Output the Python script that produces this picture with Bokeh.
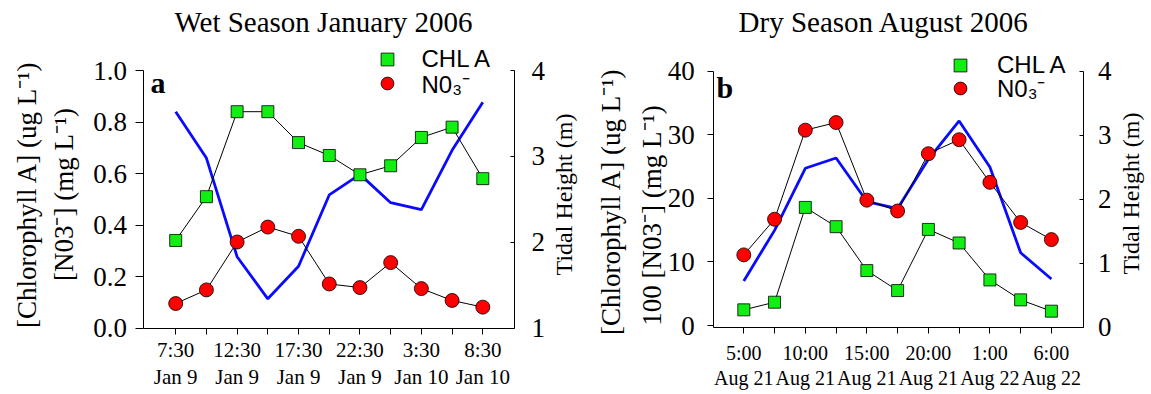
from bokeh.plotting import figure
from bokeh.models import (Range1d, LinearAxis, FixedTicker, Label, Legend,
                          LegendItem, ColumnDataSource)
from bokeh.layouts import row
from bokeh.embed import file_html
from bokeh.resources import INLINE

# ---------------- data ----------------
sample_index = list(range(11))

wet_time_labels = ["7:30", "", "12:30", "", "17:30", "", "22:30", "", "3:30", "", "8:30"]
wet_date_labels = ["Jan 9", "", "Jan 9", "", "Jan 9", "", "Jan 9", "", "Jan 10", "", "Jan 10"]
wet_chla = [0.34, 0.51, 0.84, 0.84, 0.72, 0.67, 0.595, 0.63, 0.74, 0.78, 0.58]
wet_no3 = [0.095, 0.148, 0.334, 0.392, 0.356, 0.171, 0.157, 0.254, 0.153, 0.107, 0.081]
wet_tide = [3.52, 2.98, 1.83, 1.34, 1.72, 2.55, 2.79, 2.46, 2.38, 3.07, 3.63]
wet_y_ticks = [0.0, 0.2, 0.4, 0.6, 0.8, 1.0]
wet_y_tick_labels = ["0.0", "0.2", "0.4", "0.6", "0.8", "1.0"]
wet_tide_ticks = [1, 2, 3, 4]

dry_time_labels = ["5:00", "", "10:00", "", "15:00", "", "20:00", "", "1:00", "", "6:00"]
dry_date_labels = ["Aug 21", "", "Aug 21", "", "Aug 21", "", "Aug 21", "", "Aug 22", "", "Aug 22"]
dry_chla = [2.46, 3.66, 18.56, 15.53, 8.63, 5.49, 15.1, 12.97, 7.16, 4.03, 2.25]
dry_no3_x100 = [11.1, 16.7, 30.7, 31.9, 19.7, 18.0, 27.0, 29.2, 22.5, 16.2, 13.5]
dry_tide = [0.72, 1.51, 2.48, 2.64, 1.96, 1.85, 2.62, 3.22, 2.50, 1.16, 0.75]
dry_y_ticks = [0, 10, 20, 30, 40]
dry_y_tick_labels = ["0", "10", "20", "30", "40"]
dry_tide_ticks = [0, 1, 2, 3, 4]

legend_labels = ["CHL A", "N0\u2083\u207b"]

SERIF = "Liberation Serif"
SANS = "Liberation Sans"
GREEN = "#11ee11"
RED = "#ff0000"
BLUE = "#0a0aff"
H = 394


def val_at(p_lo, v_lo, p_hi, v_hi, p):
    return v_lo + (p - p_lo) * (v_hi - v_lo) / (p_hi - p_lo)


def make_panel(cfg):
    W = cfg["width"]
    px0, px10 = cfg["x_px"]                   # pixel of sample 0 and sample 10
    (ylo_px, ylo), (yhi_px, yhi) = cfg["y_map"]
    (tlo_px, tlo), (thi_px, thi) = cfg["t_map"]
    xl_px, xr_px, xb_px = cfg["frame_px"]     # left axis, right axis, bottom axis pixels

    xr = Range1d(val_at(px0, 0, px10, 10, 0), val_at(px0, 0, px10, 10, W))
    yr = Range1d(val_at(ylo_px, ylo, yhi_px, yhi, H), val_at(ylo_px, ylo, yhi_px, yhi, 0))
    tr = Range1d(val_at(tlo_px, tlo, thi_px, thi, H), val_at(tlo_px, tlo, thi_px, thi, 0))
    x_left = val_at(px0, 0, px10, 10, xl_px)
    x_right = val_at(px0, 0, px10, 10, xr_px)
    y_bottom = val_at(ylo_px, ylo, yhi_px, yhi, xb_px)

    p = figure(width=W, height=H, x_range=xr, y_range=yr,
               output_backend="svg", toolbar_location=None, min_border=0)
    p.grid.visible = False
    p.outline_line_color = None
    p.background_fill_color = "white"
    p.border_fill_color = "white"
    p.extra_y_ranges = {"tide": tr}

    src = ColumnDataSource(dict(x=sample_index, chla=cfg["chla"], no3=cfg["no3"], tide=cfg["tide"]))

    p.line("x", "tide", source=src, y_range_name="tide", line_color=BLUE, line_width=2.8)
    p.line("x", "chla", source=src, line_color="black", line_width=1)
    p.line("x", "no3", source=src, line_color="black", line_width=1)
    sq = p.scatter("x", "chla", source=src, marker="square", size=12,
                   fill_color=GREEN, line_color="black", line_width=0.8)
    ci = p.scatter("x", "no3", source=src, marker="circle", size=14,
                   fill_color=RED, line_color="black", line_width=0.8)

    # bottom axis
    xa = p.xaxis[0]
    xa.fixed_location = y_bottom
    xa.bounds = (x_left, x_right)
    xa.ticker = FixedTicker(ticks=sample_index)
    xa.major_label_overrides = {i: (f"{t}\n{d}" if t else "")
                                for i, t, d in zip(sample_index, cfg["time_labels"], cfg["date_labels"])}
    xa.major_tick_in = 0
    xa.major_tick_out = 6
    xa.minor_tick_line_color = None
    xa.major_label_standoff = cfg["x_standoff"]
    xa.major_label_text_font = SERIF
    xa.major_label_text_font_size = cfg["x_font"]
    xa.major_label_text_line_height = 1.12
    xa.major_label_text_color = "black"
    xa.axis_line_color = "black"

    # left axis
    ya = p.yaxis[0]
    ya.fixed_location = x_left
    ya.bounds = (y_bottom, yhi)
    ya.ticker = FixedTicker(ticks=cfg["y_ticks"])
    ya.major_label_overrides = {v: s for v, s in zip(cfg["y_ticks"], cfg["y_tick_labels"])}
    ya.major_tick_in = 0
    ya.major_tick_out = cfg["left_tick"]
    ya.minor_tick_line_color = None
    ya.major_label_standoff = cfg["left_standoff"]
    ya.major_label_text_font = SERIF
    ya.major_label_text_font_size = "27px"
    ya.major_label_text_color = "black"
    ya.axis_line_color = "black"

    # right axis (tidal height)
    ra = LinearAxis(y_range_name="tide", ticker=FixedTicker(ticks=cfg["tide_ticks"]))
    ra.fixed_location = x_right
    ra.bounds = (val_at(tlo_px, tlo, thi_px, thi, xb_px), thi)
    ra.major_tick_in = 4
    ra.major_tick_out = 0
    ra.minor_tick_line_color = None
    ra.major_label_standoff = cfg["right_standoff"]
    ra.major_label_text_font = SERIF
    ra.major_label_text_font_size = "27px"
    ra.major_label_text_color = "black"
    ra.axis_line_color = "black"
    p.add_layout(ra, "right")

    def lab(text, pos, size, angle=0, bold=False, align="center", baseline="middle", font=SERIF):
        # pos given in canvas pixels from the top-left corner
        p.add_layout(Label(x=pos[0], y=H - pos[1], x_units="screen", y_units="screen",
                           text=text, text_font=font, text_font_size=size,
                           text_font_style="bold" if bold else "normal",
                           text_align=align, text_baseline=baseline,
                           angle=angle, angle_units="deg", text_color="black"))

    lab(cfg["title"], cfg["title_pos"], "29px", baseline="alphabetic")
    lab(cfg["ylab1"], cfg["ylab1_pos"], "27px", angle=90)
    lab(cfg["ylab2"], cfg["ylab2_pos"], "27px", angle=90)
    lab("Tidal Height (m)", cfg["tidal_pos"], "24px", angle=90)
    lab(cfg["letter"], cfg["letter_pos"], "30px", bold=True, align="left", baseline="alphabetic")

    # one single-row legend per series so that each row can be placed exactly
    for text, rend, (cx, cy) in zip(legend_labels, [sq, ci], cfg["legend_centers"]):
        leg = Legend(items=[LegendItem(label=text, renderers=[rend])],
                     location=(cx - 16, H - (cy + 16)), orientation="vertical",
                     glyph_width=32, glyph_height=32, spacing=0,
                     label_standoff=cfg["legend_standoff"], padding=0, margin=0,
                     label_height=32,
                     border_line_color=None, background_fill_alpha=0,
                     label_text_font=SANS, label_text_font_size="24px",
                     label_text_color="black")
        p.add_layout(leg)
    return p


wet_cfg = dict(
    width=583, x_px=(175.2, 482.3), y_map=((327.5, 0.0), (70.0, 1.0)),
    t_map=((327.5, 1.0), (70.0, 4.0)), frame_px=(142.5, 514.0, 327.5),
    chla=wet_chla, no3=wet_no3, tide=wet_tide,
    time_labels=wet_time_labels, date_labels=wet_date_labels,
    y_ticks=wet_y_ticks, y_tick_labels=wet_y_tick_labels, tide_ticks=wet_tide_ticks,
    x_standoff=4, x_font="21px", left_tick=8, left_standoff=8, right_standoff=17,
    title="Wet Season January 2006", title_pos=(323, 21),
    ylab1="[Chlorophyll A] (ug L\u207b\u00b9)", ylab1_pos=(26, 194),
    ylab2="[N03\u207b] (mg L\u207b\u00b9)", ylab2_pos=(63, 194),
    tidal_pos=(563, 194), letter="a", letter_pos=(150, 82),
    legend_centers=[(386.5, 58.7), (386.5, 83.5)], legend_standoff=19,
)

dry_cfg = dict(
    width=568, x_px=(743.3 - 583, 1050.9 - 583), y_map=((325.0, 0.0), (70.5, 40.0)),
    t_map=((326.5, 0.0), (70.5, 4.0)), frame_px=(713.3 - 583, 1082.5 - 583, 326.5),
    chla=dry_chla, no3=dry_no3_x100, tide=dry_tide,
    time_labels=dry_time_labels, date_labels=dry_date_labels,
    y_ticks=dry_y_ticks, y_tick_labels=dry_y_tick_labels, tide_ticks=dry_tide_ticks,
    x_standoff=9, x_font="20px", left_tick=6, left_standoff=13, right_standoff=15,
    title="Dry Season August 2006", title_pos=(883.5 - 583, 21),
    ylab1="[Chlorophyll A] (ug L\u207b\u00b9)", ylab1_pos=(610.5 - 583, 201),
    ylab2="100 [N03\u207b] (mg L\u207b\u00b9)", ylab2_pos=(651.5 - 583, 215),
    tidal_pos=(1130 - 583, 193), letter="b", letter_pos=(716 - 583, 87),
    legend_centers=[(960 - 583, 65), (960 - 583, 88.3)], legend_standoff=21,
)

p1 = make_panel(wet_cfg)
p2 = make_panel(dry_cfg)

layout = row(p1, p2)
open("out.html", "w").write(file_html(layout, INLINE))
